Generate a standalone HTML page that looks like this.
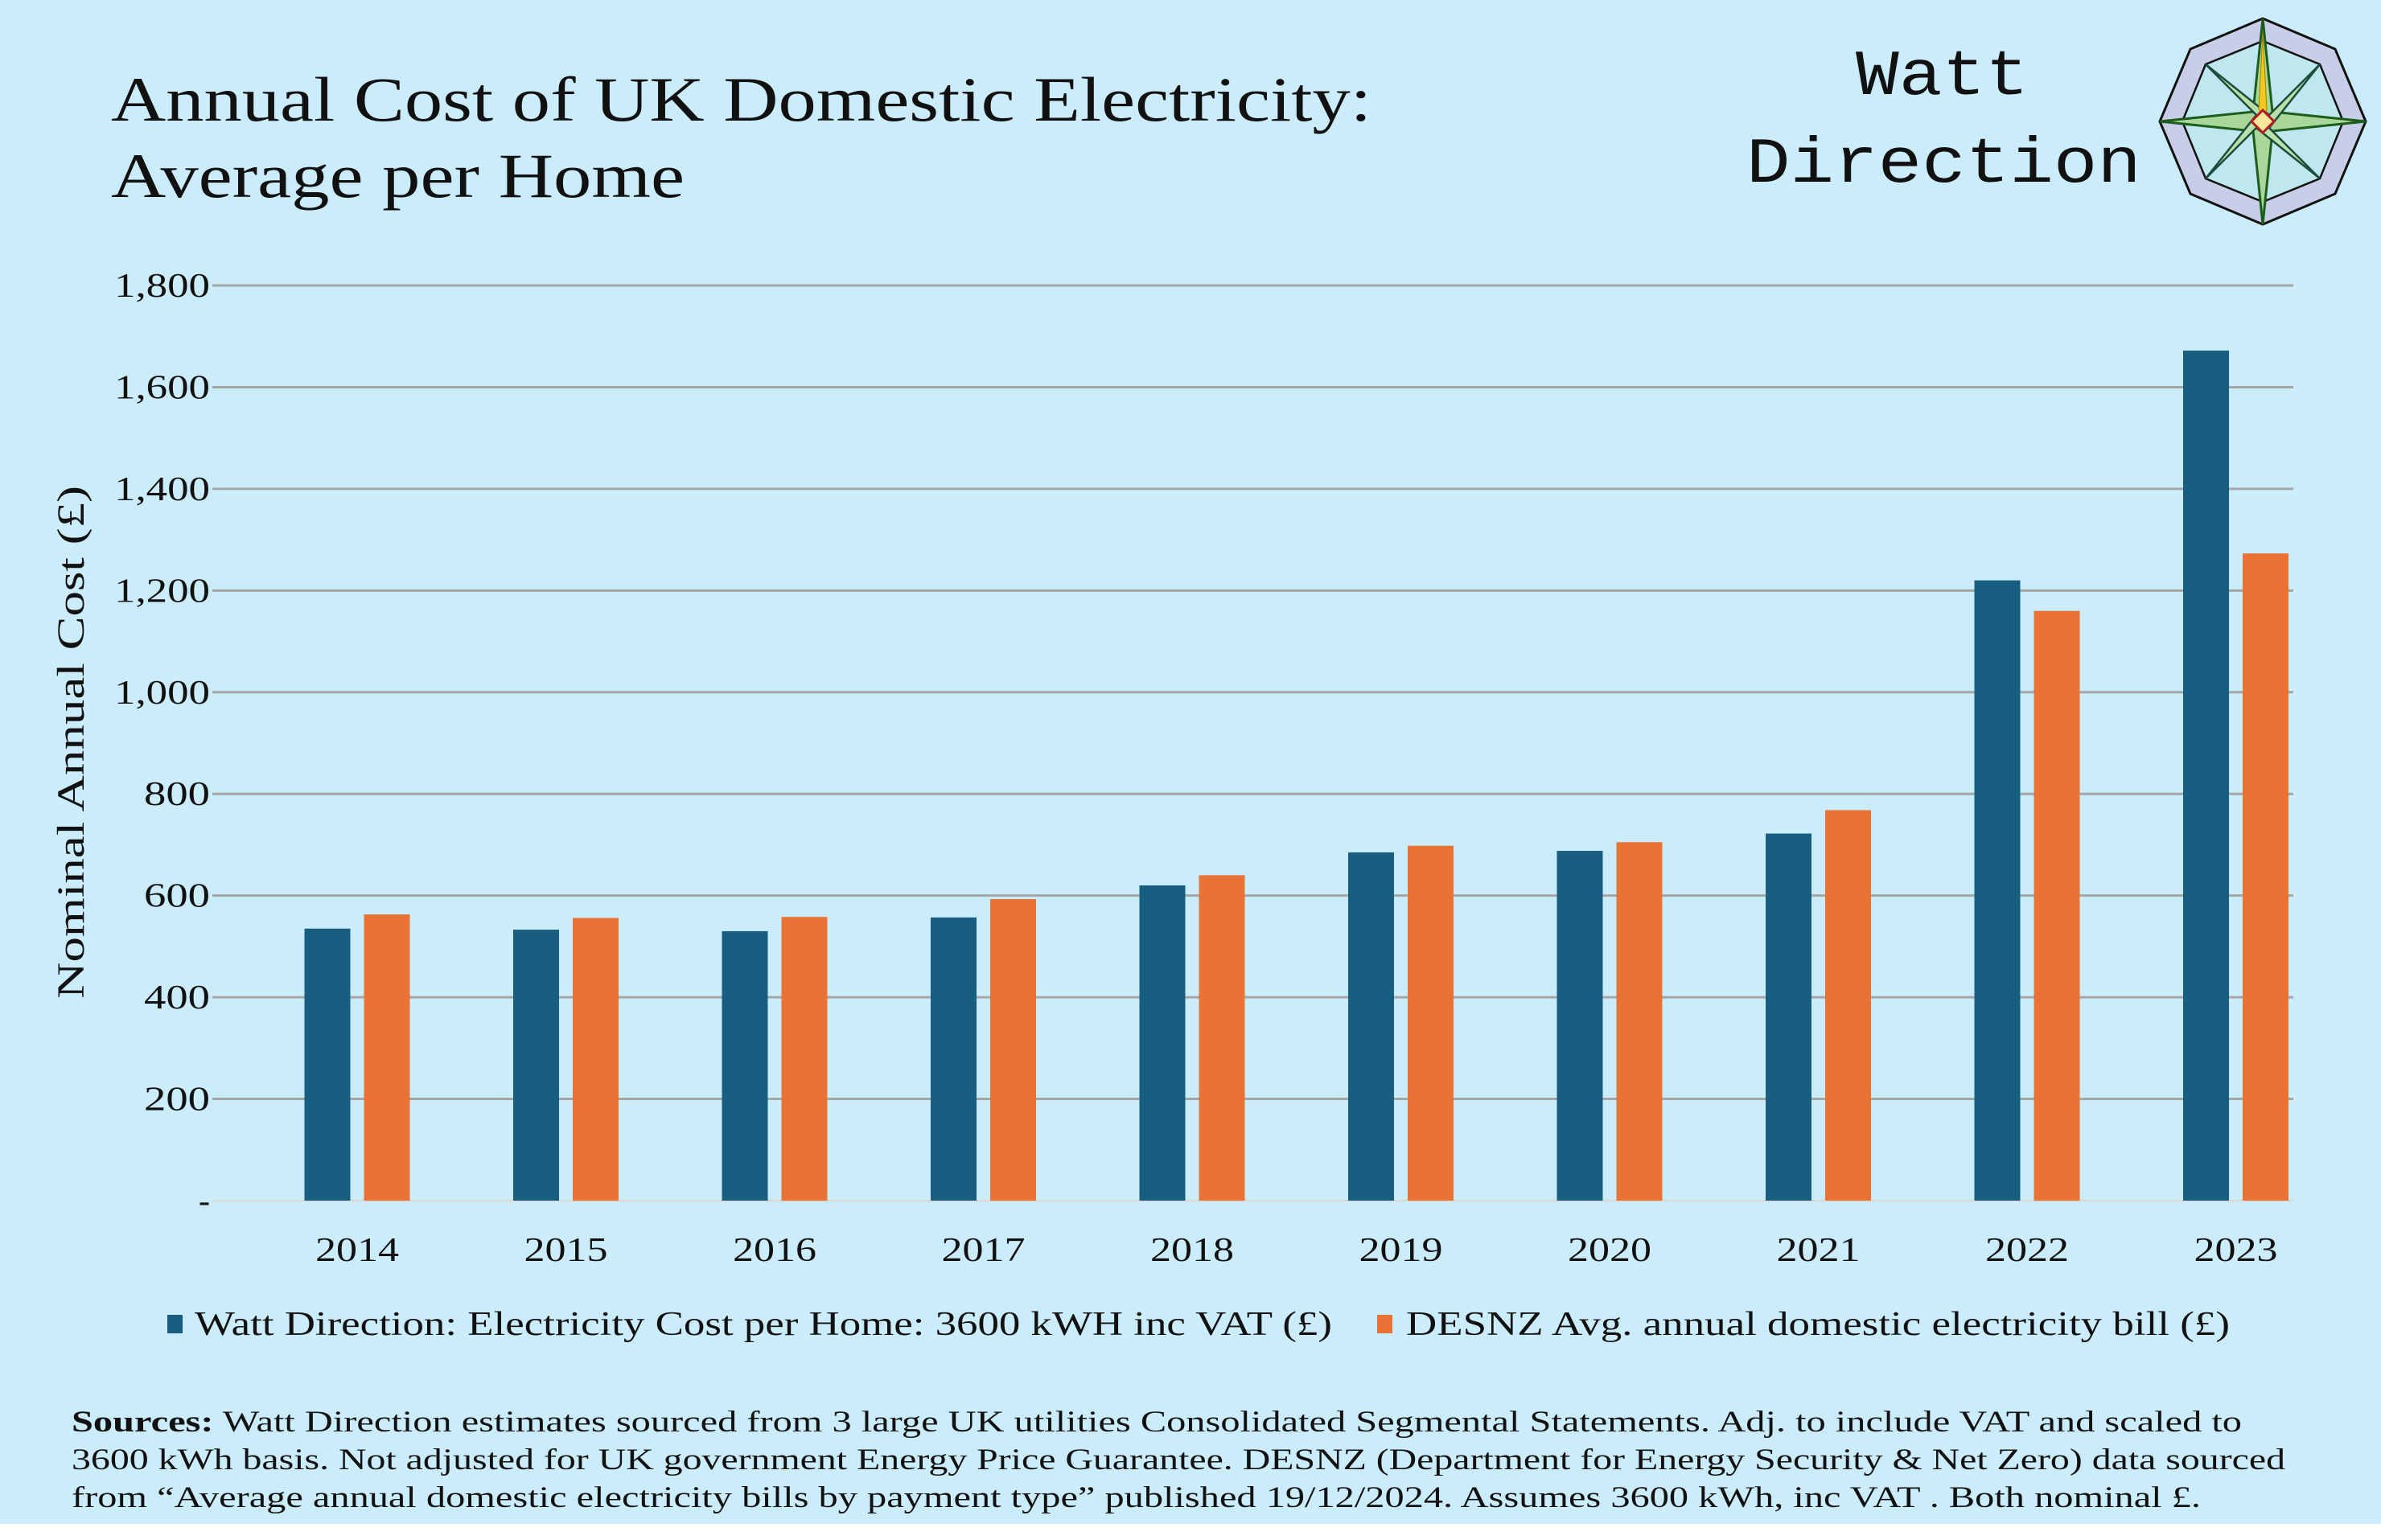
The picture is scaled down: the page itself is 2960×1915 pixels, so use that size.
<!DOCTYPE html>
<html><head><meta charset="utf-8">
<style>
html,body{margin:0;padding:0;background:#fff;}
svg{display:block;}
text{font-family:"Liberation Serif",serif;fill:#111;}
</style></head>
<body>
<svg id="chart" width="2960" height="1915" viewBox="0 0 2960 1915" xmlns="http://www.w3.org/2000/svg">
<rect x="0" y="0" width="2960" height="1895" fill="#cbedfb"/>
<text x="138" y="150" font-size="78" textLength="1567" lengthAdjust="spacingAndGlyphs">Annual Cost of UK Domestic Electricity:</text>
<text x="138" y="245" font-size="78" textLength="713" lengthAdjust="spacingAndGlyphs">Average per Home</text>
<text x="2307" y="117" font-size="80" style="font-family:'Liberation Mono',monospace" textLength="215" lengthAdjust="spacingAndGlyphs">Watt</text>
<text x="2171" y="226" font-size="80" style="font-family:'Liberation Mono',monospace" textLength="491" lengthAdjust="spacingAndGlyphs">Direction</text>
<g transform="translate(2813,151)">
  <polygon points="0,-128 90,-90 128,0 90,90 0,128 -90,90 -128,0 -90,-90" fill="#c8cde8" stroke="#111" stroke-width="3"/>
  <polygon points="0,-100 71,-71 100,0 71,71 0,100 -71,71 -100,0 -71,-71" fill="#bfe7ef" stroke="#111" stroke-width="2.5"/>
  <polygon points="0,-128 12,-12 128,0 12,12 0,128 -12,12 -128,0 -12,-12" fill="#a9d79a" stroke="#1c5c1c" stroke-width="3"/>
  <polygon points="-71,-71 8,-8 71,-71 8,8 71,71 -8,8 -71,71 -8,-8" fill="#b8e0a8" stroke="#1c4c3c" stroke-width="2.5"/>
  <polygon points="0,-110 5,-15 0,-5 -5,-15" fill="#f2c81e" stroke="#a08000" stroke-width="1"/>
  <polygon points="0,-14 14,0 0,14 -14,0" fill="#f6e79a" stroke="#b02020" stroke-width="3"/>
</g>
<g id="plot"></g>
<text transform="translate(104,923) rotate(-90)" text-anchor="middle" font-size="48" textLength="638" lengthAdjust="spacingAndGlyphs">Nominal Annual Cost (£)</text>
<g>
  <rect x="208" y="1635" width="19" height="23" fill="#175e80"/>
  <text x="242" y="1660" font-size="42" textLength="1414" lengthAdjust="spacingAndGlyphs">Watt Direction: Electricity Cost per Home: 3600 kWH inc VAT (£)</text>
  <rect x="1712" y="1635" width="19" height="23" fill="#e87334"/>
  <text x="1748" y="1660" font-size="42" textLength="1024" lengthAdjust="spacingAndGlyphs">DESNZ Avg. annual domestic electricity bill (£)</text>
</g>
<g font-size="37">
  <text x="89" y="1780" textLength="2698" lengthAdjust="spacingAndGlyphs"><tspan font-weight="bold">Sources:</tspan> Watt Direction estimates sourced from 3 large UK utilities Consolidated Segmental Statements. Adj. to include VAT and scaled to</text>
  <text x="89" y="1827" textLength="2752" lengthAdjust="spacingAndGlyphs">3600 kWh basis. Not adjusted for UK government Energy Price Guarantee.  DESNZ (Department for Energy Security &amp; Net Zero) data sourced</text>
  <text x="89" y="1874" textLength="2647" lengthAdjust="spacingAndGlyphs">from  “Average annual domestic electricity bills by payment type” published 19/12/2024. Assumes 3600 kWh, inc VAT . Both nominal £.</text>
</g>
</svg>
<script>
const categories = ["2014","2015","2016","2017","2018","2019","2020","2021","2022","2023"];
const wattDirection = [535,533,530,557,620,685,688,722,1220,1672];
const desnz = [563,556,558,593,640,698,705,768,1160,1273];
const yTicks = [0,200,400,600,800,1000,1200,1400,1600,1800];
const yTickLabels = ["-","200","400","600","800","1,000","1,200","1,400","1,600","1,800"];

const NS = "http://www.w3.org/2000/svg";
const plot = document.getElementById('plot');
const X0 = 264, X1 = 2851, Y0 = 1493, Y1 = 355, YMAX = 1800;
const C0 = 444, CSTEP = 259.5;
function yScale(v){ return Y0 - (v / YMAX) * (Y0 - Y1); }
function xCenter(i){ return C0 + CSTEP * i; }
function mk(tag, attrs){ const e = document.createElementNS(NS, tag); for (const k in attrs) e.setAttribute(k, attrs[k]); return e; }

yTicks.forEach((t, i) => {
  const y = yScale(t);
  const g = mk('line', {x1: X0, x2: X1, y1: y, y2: y, stroke: t === 0 ? '#d9d9d9' : '#a6a6a6', 'stroke-width': 3});
  
  
  plot.appendChild(g);
  const lab = yTickLabels[i];
  const attrs = {x: 261, y: y + 14, 'text-anchor': 'end', 'font-size': 42};
  if (lab.length > 1) { attrs.textLength = lab.length === 5 ? 119 : 82; attrs.lengthAdjust = 'spacingAndGlyphs'; }
  const lb = mk('text', attrs);
  
  
  lb.textContent = lab;
  plot.appendChild(lb);
});

const BW = 57, GAP = 17;
categories.forEach((c, i) => {
  const cx = xCenter(i);
  const yb = yScale(wattDirection[i]);
  const b1 = mk('rect', {x: cx - GAP/2 - BW, y: yb, width: BW, height: Y0 - yb, fill: '#175e80'});
  
  
  plot.appendChild(b1);
  const yo = yScale(desnz[i]);
  const b2 = mk('rect', {x: cx + GAP/2, y: yo, width: BW, height: Y0 - yo, fill: '#e87334'});
  
  
  plot.appendChild(b2);
  const lb = mk('text', {x: cx, y: 1568, 'text-anchor': 'middle', 'font-size': 42, textLength: 104, lengthAdjust: 'spacingAndGlyphs'});
  
  
  lb.textContent = c;
  plot.appendChild(lb);
});
</script>
</body></html>
